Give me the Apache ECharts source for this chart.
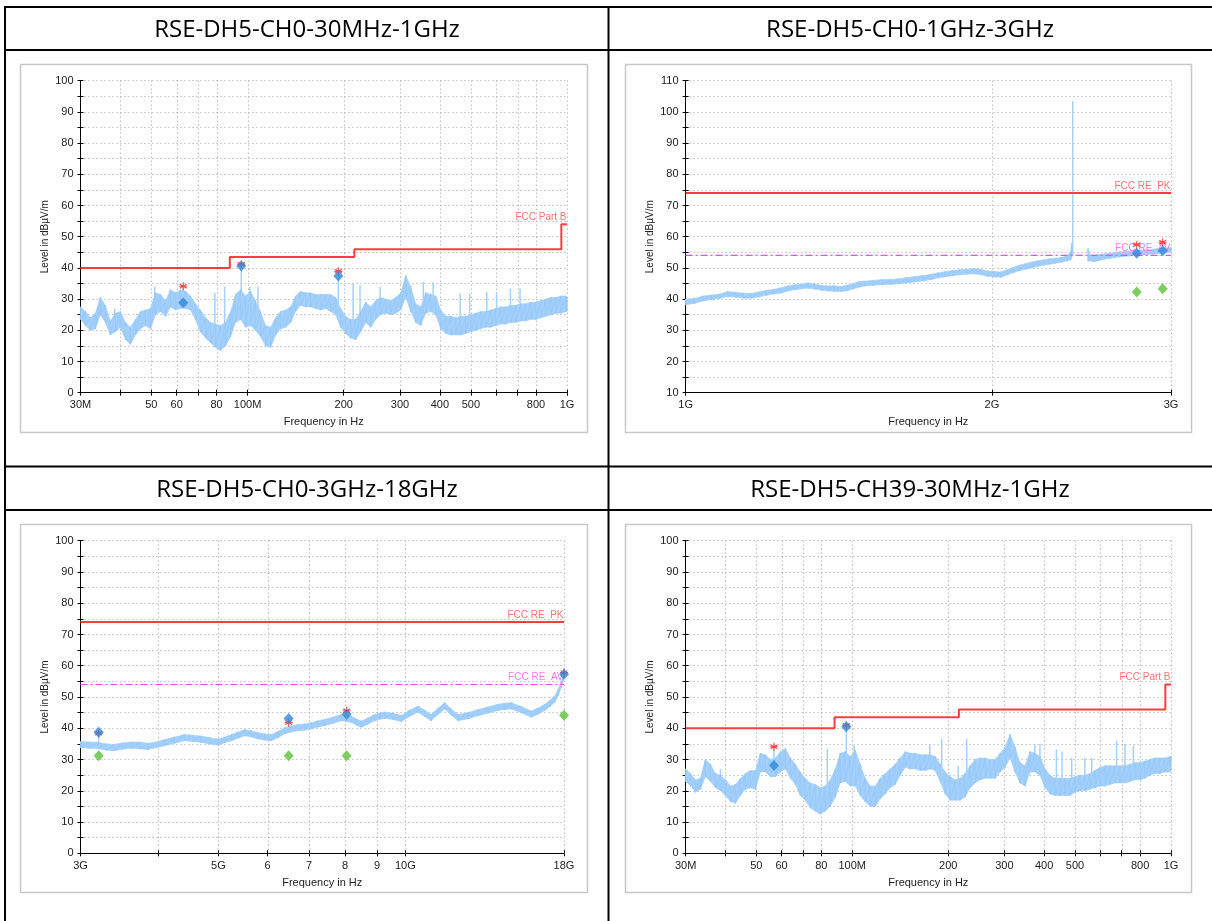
<!DOCTYPE html>
<html><head><meta charset="utf-8">
<script src="https://cdn.jsdelivr.net/npm/echarts@6/dist/echarts.min.js"></script>
<style>html,body{margin:0;padding:0;background:#fff;}#main{width:1212px;height:921px;}</style>
</head><body><div id="main"></div>
<script>
const titles = ['RSE-DH5-CH0-30MHz-1GHz','RSE-DH5-CH0-1GHz-3GHz','RSE-DH5-CH0-3GHz-18GHz','RSE-DH5-CH39-30MHz-1GHz'];

// ---- tick labels
const mTicks = [30,40,50,60,70,80,100,200,300,400,500,600,700,800,1000];
const mTickText = ['30M','','50','60','','80','100M','200','300','400','500','','','800','1G'];
const g1Ticks = [1,2,3];
const g1TickText = ['1G','2G','3G'];
const g3Ticks = [3,4,5,6,7,8,9,10,18];
const g3TickText = ['3G','','5G','6','7','8','9','10G','18G'];

// ---- Chart 1: CH0 30MHz-1GHz (MHz, dBuV/m)
const c1Freq = [30,31.1,32.2,33.4,34.6,35.9,37.2,38.6,40,41.5,43,44.6,46.2,47.9,49.7,51.5,53.4,55.4,57.4,59.5,61.7,64,66.3,68.7,71.2,73.9,76.6,79.4,82.3,85.3,88.5,91.7,95.1,98.6,102.2,105.9,109.8,113.9,118.1,122.4,126.9,131.6,136.4,141.4,146.6,152,157.6,163.4,169.4,175.6,182,188.7,195.6,202.8,210.3,218,226,234.3,242.9,251.8,261.1,270.7,280.6,290.9,301.6,312.7,324.2,336.1,348.4,361.2,374.5,388.2,402.5,417.3,432.6,448.5,465,482,499.7,518.1,537.1,556.8,577.3,598.5,620.5,643.3,666.9,691.4,716.8,743.1,770.4,798.7,828,858.4,890,922.6,956.5,991.6,1000];
const c1Hi = [27.5,26,24,25.5,30.5,28,23,25.5,26,22.5,21,23.5,26,26.5,27,32,31.5,29.5,33,32,33,32.5,31,28.5,26.5,24,22.5,22,21.5,22.5,26,31.5,33,31,32.5,29.5,26,21.5,21,24,26,26.5,27.5,31,32.5,32,32,31.5,31.5,31.5,31.5,30.5,27,24.5,23.5,23.5,26,29,27.5,29.5,30.5,30,29.5,30.5,32,37.5,34,28.5,27.5,32,31.5,31,26.5,24.5,24.5,24,24.5,24.5,25,25.5,26,26,26.5,27,27.5,27.5,28,28,28.5,28.5,29,29,29.5,30,30.5,30.5,31,31,30.5];
const c1Lo = [23.5,21.5,20,20.5,25,22.5,18.5,19.5,21,17,15.5,18.5,20.5,21.5,20.5,25,26,24.5,27.5,26.5,27,27,26.5,23.5,19.5,17.5,16,14.5,13.5,15,18,22.5,23.5,21,21.5,20,18,15,14.5,18.5,20.5,21,22.5,26,28,27.5,27.5,27,26.5,27,26,25,21,19,17.5,17,19.5,22.5,21,23.5,25,25.5,25,25.5,26.5,30.5,26,22.5,21.5,25.5,26,25,20.5,19,18.5,18.5,18.5,19,19.5,20,20.5,21,21,21.5,22,22,22.5,22.5,23,23,23.5,23.5,24,24.5,25,25.5,25.5,26,26];
const c1SpikeFreq = [38.4,51.2,62.9,79.0,84.8,95.6,101.6,107.8,192.4,214,225,260,355,381,463,496,561,602,665,713];
const c1SpikeTop = [27,34,34.1,32,34,41,34,34,38.5,35,34.4,33.9,35.5,35.5,31.8,31.8,32.3,32.3,33.4,33.4];
const c1SpikeBase = [22,28,28,20,20,30,27,24,28,20,22,28,28,28,22,22,23,23,25,25];
const c1LimitFreq = [30,88,88,216,216,960,960,1000];
const c1LimitVal = [40,40,43.5,43.5,46,46,54,54];
const c1MarkFreq = [62.9,95.6,192.4];
const c1PeakVal = [34.1,41.2,38.9];
const c1QpVal = [28.8,40.6,37.4];

// ---- Chart 2: CH0 1GHz-3GHz (GHz)
const c2Freq = [1.000,1.020,1.040,1.060,1.080,1.100,1.120,1.140,1.160,1.180,1.200,1.220,1.240,1.260,1.280,1.300,1.320,1.340,1.360,1.380,1.400,1.420,1.440,1.460,1.480,1.500,1.530,1.560,1.590,1.620,1.650,1.680,1.710,1.740,1.770,1.800,1.830,1.860,1.890,1.920,1.950,1.980,2.010,2.040,2.070,2.100,2.130,2.160,2.190,2.220,2.250,2.280,2.310,2.340,2.370,2.390,2.398,null,2.486,2.495,2.52,2.55,2.58,2.61,2.64,2.67,2.70,2.73,2.76,2.79,2.82,2.85,2.88,2.91,2.94,2.97,3.00];
const c2Hi = [40.0,40.2,41.0,41.3,41.6,42.4,42.2,41.9,41.8,42.3,42.8,43.1,43.6,44.2,44.6,44.8,45.2,44.8,44.4,44.2,44.3,44.0,44.4,44.9,45.6,45.8,46.0,46.3,46.3,46.5,46.9,47.2,47.6,47.9,48.4,48.8,49.2,49.4,49.6,49.8,49.5,49.0,48.9,48.7,49.4,50.2,50.9,51.4,51.9,52.3,52.6,52.9,53.1,53.3,53.9,55.0,58.0,null,56.3,54.2,54.0,54.3,54.5,54.6,55.0,55.2,55.3,55.4,55.6,55.6,55.8,55.8,56.0,56.2,56.3,56.4,56.6];
const c2Lo = [38.2,38.6,39.4,39.8,40.2,40.8,40.6,40.3,40.3,40.7,41.2,41.6,41.9,42.6,43.0,43.3,43.5,43.2,42.8,42.6,42.5,42.4,42.6,43.2,43.8,44.2,44.4,44.6,44.7,44.9,45.2,45.5,45.8,46.2,46.8,47.2,47.5,47.8,48.0,48.1,47.8,47.3,47.1,47.0,47.7,48.5,49.1,49.6,50.0,50.5,50.9,51.2,51.5,51.8,52.2,52.6,53.5,null,52.2,52.2,52.0,52.4,52.8,53.0,53.3,53.5,53.7,53.8,54.0,54.0,54.2,54.4,54.4,54.6,54.7,54.9,55.0];
const c2SpikeFreq = [2.402];
const c2SpikeTop = [103.5];
const c2SpikeBase = [54];
const c2PkLimitFreq = [1,3];
const c2PkLimitVal = [74,74];
const c2AvLimitFreq = [1,3];
const c2AvLimitVal = [54,54];
const c2MarkFreq = [2.776,2.944];
const c2PeakVal = [57.4,58.2];
const c2QpVal = [54.7,55.5];
const c2AvgVal = [42.3,43.3];

// ---- Chart 3: CH0 3GHz-18GHz (GHz)
const c3Freq = [3.00,3.10,3.20,3.30,3.40,3.50,3.62,3.74,3.85,3.97,4.10,4.25,4.41,4.55,4.69,4.84,4.99,5.12,5.25,5.38,5.51,5.65,5.79,5.94,6.08,6.24,6.39,6.55,6.72,6.89,7.06,7.23,7.41,7.65,7.89,8.04,8.18,8.34,8.49,8.70,8.92,9.10,9.26,9.55,9.85,10.15,10.48,10.74,11.00,11.28,11.57,11.85,12.15,12.60,13.09,13.58,14.09,14.45,14.81,15.35,15.95,16.35,16.76,17.10,17.39,17.62,17.82,18.00];
const c3Hi = [35.8,35.6,35.5,35.0,34.8,35.3,35.6,35.6,35.2,35.6,36.4,37.2,38.0,37.8,37.5,37.0,36.6,37.2,38.0,38.8,39.6,39.2,38.6,38.2,38.0,39.0,40.2,40.8,41.2,41.4,41.8,42.4,42.8,43.6,44.4,44.2,43.9,43.0,42.3,43.3,44.4,44.9,45.2,44.8,44.1,45.8,47.1,45.8,44.4,46.4,48.2,46.2,44.4,45.0,46.0,46.8,47.7,48.0,48.2,47.0,45.5,46.5,47.7,49.0,50.3,52.5,55.1,58.0];
const c3Lo = [33.8,33.6,33.5,33.0,32.8,33.3,33.6,33.4,33.2,33.8,34.4,35.2,36.0,35.8,35.5,35.0,34.6,35.4,36.0,36.8,37.6,37.2,36.6,36.2,36.0,37.0,38.2,38.8,39.2,39.4,39.8,40.4,40.8,41.6,42.4,42.2,41.9,41.0,40.3,41.3,42.4,42.9,43.2,42.8,42.1,43.8,45.1,43.8,42.4,44.4,46.2,44.2,42.4,43.0,44.0,44.8,45.7,46.0,46.2,45.0,43.5,44.5,45.7,47.0,48.3,50.5,53.1,56.0];
const c3SpikeFreq = [3.209];
const c3SpikeTop = [38.7];
const c3SpikeBase = [35];
const c3PkLimitFreq = [3,18];
const c3PkLimitVal = [74,74];
const c3AvLimitFreq = [3,18];
const c3AvLimitVal = [54,54];
const c3MarkFreq = [3.209,6.488,8.044,18.0];
const c3PeakVal = [38.4,41.8,45.6,57.8];
const c3QpVal = [38.7,43.1,44.5,57.3];
const c3AvgVal = [31.2,31.2,31.2,44.2];

// ---- Chart 4: CH39 30MHz-1GHz (MHz)
const c4Freq = c1Freq.slice();
const c4Hi = [27,25.5,23.5,24,30,28.5,25.5,25,23.5,21.5,22,24,25.5,26.5,26.5,32,31.5,30,30.5,32.5,33.5,30.5,28.5,26,24,22.5,22,21,21.5,23.5,27,32,32.5,31,33,28.5,24,21.5,21.5,24,25.5,27,28.5,30.5,32.5,32,32,31.5,31.5,31.5,31,28.5,26,24.5,23.5,24,25.5,28,30,30.5,30.5,30,30,32,34,38,34,29,28,32.5,32,31,27,25,24,24,24,24,24.5,25,25,25.5,26.5,27.5,28,28,28,28,28,28.5,29,29,29.5,30,30.5,30.5,30.5,31,31];
const c4Lo = [23,21.5,19.5,20.5,24.5,23,21,20,18.5,16.5,16,18.5,20.5,21,20.5,26,26,24.5,24.5,26,27,24,22,18.5,17,14.5,13.5,12.5,13.5,15,18,22.5,23,21.5,21.5,18.5,16.5,15,15,17.5,19,21,22,25,27.5,27,27,26.5,26.5,27,26.5,23,19,17,17,17,18,21,22.5,23.5,24,24,24,26,27.5,30.5,26,22.5,21.5,26,26,25,21,19,18.5,18.5,18.5,18.5,19.5,20,20,20.5,21,21.5,21.5,22,22.5,22.5,22.5,23,23.5,23.5,24,25,25.5,25.5,26,26,26.5];
const c4SpikeFreq = [38.6,56.8,83.5,95.8,101.3,175,190.8,215,228.6,374,388,437,455,488,537,564,675,717,762];
const c4SpikeTop = [27,34.1,33.5,40.8,34.4,35,36.6,28,36.6,35,35,33.2,32.6,30.5,30.5,30.5,36,35,34.5];
const c4SpikeBase = [22,28,18,28,25,28,24,20,21,27,27,21,21,21,21,21,23,23,24];
const c4LimitFreq = [30,88,88,216,216,960,960,1000];
const c4LimitVal = [40,40,43.5,43.5,46,46,54,54];
const c4MarkFreq = [56.8,95.8];
const c4PeakVal = [34.1,41.0];
const c4QpVal = [28.1,40.5];

const RED = '#ff3c3c', MAG = '#ff44ff';
const panels = [
  {g:[80.5,80.7,486.5,312], xr:[30,1000], yr:[0,100], ticks:mTicks, tickText:mTickText,
   freq:c1Freq, hi:c1Hi, lo:c1Lo, spF:c1SpikeFreq, spT:c1SpikeTop, spB:c1SpikeBase,
   limits:[{f:c1LimitFreq, v:c1LimitVal, color:RED, dash:'solid', label:'FCC Part B', lc:'#ff5050', w:2}],
   mk:{f:c1MarkFreq, pk:c1PeakVal, qp:c1QpVal, av:null}},
  {g:[685.6,80.7,485.4,312], xr:[1,3], yr:[10,110], ticks:g1Ticks, tickText:g1TickText,
   freq:c2Freq, hi:c2Hi, lo:c2Lo, spF:c2SpikeFreq, spT:c2SpikeTop, spB:c2SpikeBase,
   limits:[{f:c2PkLimitFreq, v:c2PkLimitVal, color:RED, dash:'solid', label:'FCC RE  PK', lc:'#ff5050', w:2},
           {f:c2AvLimitFreq, v:c2AvLimitVal, color:MAG, dash:[7,3,2,3], label:'FCC RE  AV', lc:'#ff55ff', w:1.2}],
   mk:{f:c2MarkFreq, pk:c2PeakVal, qp:c2QpVal, av:c2AvgVal}},
  {g:[80.5,540.7,483.5,312.6], xr:[3,18], yr:[0,100], ticks:g3Ticks, tickText:g3TickText,
   freq:c3Freq, hi:c3Hi, lo:c3Lo, spF:c3SpikeFreq, spT:c3SpikeTop, spB:c3SpikeBase,
   limits:[{f:c3PkLimitFreq, v:c3PkLimitVal, color:RED, dash:'solid', label:'FCC RE  PK', lc:'#ff5050', w:2},
           {f:c3AvLimitFreq, v:c3AvLimitVal, color:MAG, dash:[7,3,2,3], label:'FCC RE  AV', lc:'#ff55ff', w:1.2}],
   mk:{f:c3MarkFreq, pk:c3PeakVal, qp:c3QpVal, av:c3AvgVal}},
  {g:[685.6,540.7,485.4,312.6], xr:[30,1000], yr:[0,100], ticks:mTicks, tickText:mTickText,
   freq:c4Freq, hi:c4Hi, lo:c4Lo, spF:c4SpikeFreq, spT:c4SpikeTop, spB:c4SpikeBase,
   limits:[{f:c4LimitFreq, v:c4LimitVal, color:RED, dash:'solid', label:'FCC Part B', lc:'#ff5050', w:2}],
   mk:{f:c4MarkFreq, pk:c4PeakVal, qp:c4QpVal, av:null}}
];
const frames = [[20,64,567,368],[625,64,566,368],[20,524,567,368],[625,524,566,368]];
const titlePos = [[307,30],[910,30],[307,490],[910,490]];

const L = v => Math.log10(v);
const FONT = '"Liberation Sans", Arial, sans-serif';
const BAND = '#a3cffb', ZIG = '#96c8f7';
const GRID = '#a0a0a0';
const STAR = 'path://M5,0L5,10M0.67,2.5L9.33,7.5M0.67,7.5L9.33,2.5M0,5L10,5';

const option = {animation:false, backgroundColor:'#fff', grid:[], xAxis:[], yAxis:[], series:[], graphic:[]};

panels.forEach((p, k) => {
  option.grid.push({left:p.g[0], top:p.g[1], width:p.g[2], height:p.g[3], containLabel:false, outerBoundsMode:'none'});
  const tickVals = p.ticks.map(L);
  const labVals = p.ticks.filter((t,i)=>p.tickText[i]!=='').map(L);
  const fmt = v => { for (let i=0;i<p.ticks.length;i++) if (Math.abs(L(p.ticks[i])-v)<1e-6) return p.tickText[i]; return ''; };
  const xmin = L(p.xr[0]), xmax = L(p.xr[1]);
  option.xAxis.push({gridIndex:k, type:'value', min:xmin, max:xmax, position:'bottom',
    axisLine:{show:true, onZero:false, lineStyle:{color:'#000', width:1}},
    axisTick:{show:true, customValues:tickVals, length:3, lineStyle:{color:'#000'}},
    axisLabel:{show:true, customValues:labVals, formatter:fmt, margin:7, fontSize:11, color:'#222', fontFamily:FONT},
    splitLine:{show:false},
    name:'Frequency in Hz', nameLocation:'middle', nameGap:24, nameMoveOverlap:false,
    nameTextStyle:{fontSize:11, color:'#222', fontFamily:FONT}});
  option.xAxis.push({gridIndex:k, type:'value', min:xmin, max:xmax, position:'bottom',
    axisLine:{show:false}, axisTick:{show:true, inside:true, customValues:tickVals, length:3, lineStyle:{color:'#000'}},
    axisLabel:{show:false}, splitLine:{show:false}});
  option.yAxis.push({gridIndex:k, type:'value', min:p.yr[0], max:p.yr[1], interval:5, position:'left',
    axisLine:{show:true, onZero:false, lineStyle:{color:'#000', width:1}},
    axisTick:{show:true, length:3, lineStyle:{color:'#000'}},
    axisLabel:{formatter: v => (v % 10 === 0 ? String(v) : ''), margin:7, fontSize:11, color:'#222', fontFamily:FONT},
    splitLine:{show:true, lineStyle:{type:[1,3], color:GRID, width:1}},
    name:'Level in dB\u00b5V/m', nameLocation:'middle', nameGap:30, nameRotate:90, nameMoveOverlap:false,
    nameTextStyle:{fontSize:10, color:'#222', fontFamily:FONT}});
  option.yAxis.push({gridIndex:k, type:'value', min:p.yr[0], max:p.yr[1], interval:5, position:'left',
    axisLine:{show:false}, axisTick:{show:true, inside:true, length:3, lineStyle:{color:'#000'}},
    axisLabel:{show:false}, splitLine:{show:false}});
  const xi = 2*k, yi = 2*k;

  // vertical dotted grid lines at the frequency ticks
  option.series.push({type:'custom', xAxisIndex:xi, yAxisIndex:yi, silent:true, z:1,
    data:tickVals.slice(1).map(v=>[v, p.yr[0], p.yr[1]]), encode:{x:0, y:[1,2]},
    renderItem:(params, api) => {
      const a = api.coord([api.value(0), api.value(2)]), b = api.coord([api.value(0), api.value(1)]);
      const x = Math.round(a[0]) + 0.5;
      return {type:'line', shape:{x1:x, y1:a[1], x2:x, y2:b[1]}, style:{stroke:GRID, lineWidth:1, lineDash:[1,3]}};
    }});

  // band fill
  const quads = [];
  for (let i=0;i<p.freq.length-1;i++) if (p.freq[i]!=null && p.freq[i+1]!=null) quads.push([L(p.freq[i]), p.hi[i], p.lo[i], i]);
  option.series.push({type:'custom', xAxisIndex:xi, yAxisIndex:yi, silent:true, z:2, data:quads, encode:{x:0, y:[1,2]},
    renderItem:(params, api) => {
      const i = api.value(3);
      const a = api.coord([L(p.freq[i]), p.hi[i]]), b = api.coord([L(p.freq[i+1]), p.hi[i+1]]);
      const c = api.coord([L(p.freq[i+1]), p.lo[i+1]]), d = api.coord([L(p.freq[i]), p.lo[i]]);
      return {type:'polygon', shape:{points:[a,b,c,d]}, style:{fill:BAND, stroke:BAND, lineWidth:0.6}};
    }});
  // noisy zigzag texture
  let seg = [];
  const segs = [];
  p.freq.forEach((f,i) => {
    if (f == null) { if (seg.length) segs.push(seg); seg = []; return; }
    seg.push([L(f), p.hi[i]]); seg.push([L(f), p.lo[i]]);
  });
  if (seg.length) segs.push(seg);
  segs.forEach(s => option.series.push({type:'line', xAxisIndex:xi, yAxisIndex:yi, data:s, symbol:'none', silent:true, z:3,
    lineStyle:{color:ZIG, width:0.8}}));
  // spikes
  option.series.push({type:'custom', xAxisIndex:xi, yAxisIndex:yi, silent:true, z:3,
    data:p.spF.map((f,i)=>[L(f), p.spT[i], p.spB[i]]), encode:{x:0, y:[1,2]},
    renderItem:(params, api) => {
      const a = api.coord([api.value(0), api.value(1)]), b = api.coord([api.value(0), api.value(2)]);
      return {type:'line', shape:{x1:a[0], y1:a[1], x2:b[0], y2:b[1]}, style:{stroke:'#a6d1fa', lineWidth:1.5}};
    }});
  // limit lines + labels
  p.limits.forEach(lim => {
    option.series.push({type:'line', xAxisIndex:xi, yAxisIndex:yi, symbol:'none', silent:true, z:5,
      data:lim.f.map((f,i)=>[L(f), lim.v[i]]), lineStyle:{color:lim.color, width:lim.w, type:lim.dash}});
    const last = lim.f.length-1;
    option.series.push({type:'scatter', xAxisIndex:xi, yAxisIndex:yi, silent:true, z:6, symbolSize:1,
      itemStyle:{color:'rgba(255,255,255,0)'},
      data:[[L(lim.f[last]), lim.v[last]]],
      label:{show:true, position:'left', distance:0, offset:[0,-7], formatter:lim.label, color:lim.lc, fontSize:10, fontFamily:FONT}});
  });
  // markers
  const mf = p.mk.f.map(L);
  option.series.push({type:'scatter', xAxisIndex:xi, yAxisIndex:yi, z:7, symbol:STAR, symbolSize:8,
    itemStyle:{color:'rgba(255,255,255,0)', borderColor:'#ff2020', borderWidth:1.1},
    data:mf.map((x,i)=>[x, p.mk.pk[i]])});
  option.series.push({type:'scatter', xAxisIndex:xi, yAxisIndex:yi, z:8, symbol:'diamond', symbolSize:[10,11],
    itemStyle:{color:'#2f88d8'}, data:mf.map((x,i)=>[x, p.mk.qp[i]])});
  if (p.mk.av) option.series.push({type:'scatter', xAxisIndex:xi, yAxisIndex:yi, z:8, symbol:'diamond', symbolSize:[10,11],
    itemStyle:{color:'#5cc23a'}, data:mf.map((x,i)=>[x, p.mk.av[i]])});
});

// frames, table and titles
frames.forEach(f => option.graphic.push({type:'rect', silent:true, z:-1,
  shape:{x:f[0]+0.5, y:f[1]+0.5, width:f[2], height:f[3]}, style:{fill:'none', stroke:'#c8c8c8', lineWidth:1.5}}));
const tableLines = [[5,7,1212,7],[5,50,1212,50],[5,466.5,1212,466.5],[5,510,1212,510],[5,6,5,921],[608.5,6,608.5,921]];
tableLines.forEach(l => option.graphic.push({type:'line', silent:true, z:10,
  shape:{x1:l[0], y1:l[1], x2:l[2], y2:l[3]}, style:{stroke:'#000', lineWidth:2}}));
titles.forEach((t,i) => option.graphic.push({type:'text', silent:true, z:10, x:titlePos[i][0], y:titlePos[i][1],
  style:{text:t, fontSize:24, fontFamily:'"Open Sans", sans-serif', fill:'#000', align:'center', verticalAlign:'middle'}}));

const chart = echarts.init(document.getElementById('main'), null, {renderer:'canvas', width:1212, height:921});
chart.setOption(option);
</script>
</body></html>
